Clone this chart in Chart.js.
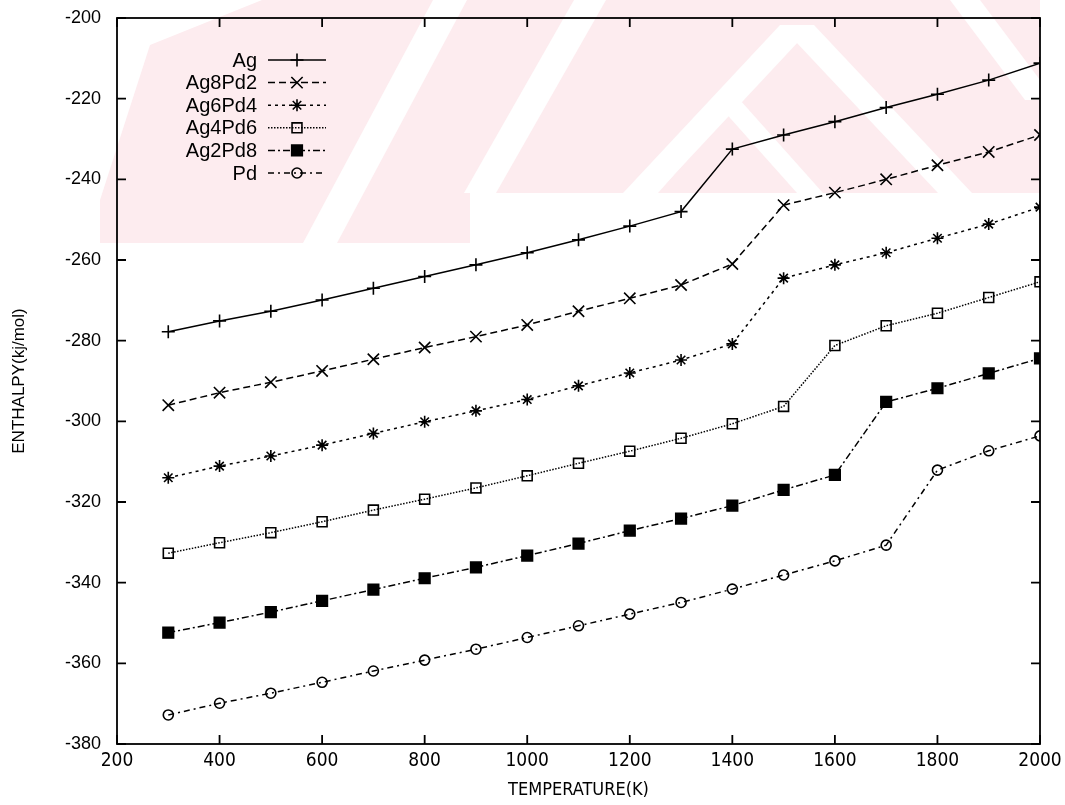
<!DOCTYPE html>
<html>
<head>
<meta charset="utf-8">
<title>Enthalpy of Ag-Pd clusters</title>
<script src="https://cdn.jsdelivr.net/npm/chart.js@4.4.1/dist/chart.umd.min.js"></script>
<style>
  html, body { margin: 0; padding: 0; background: #fff; }
  #wrap { width: 1065px; height: 805px; }
</style>
</head>
<body>
<div id="wrap"><canvas id="enthalpy" width="1065" height="805"></canvas></div>
<script>
// temperature grid (K)
const temperatures = [300, 400, 500, 600, 700, 800, 900, 1000, 1100, 1200, 1300, 1400, 1500, 1600, 1700, 1800, 1900, 2000];

// enthalpy per composition (kJ/mol)
const ag     = [-277.8, -275.1, -272.7, -269.9, -267.0, -264.1, -261.2, -258.2, -255.0, -251.6, -248.0, -232.5, -229.0, -225.7, -222.2, -218.9, -215.4, -211.2];
const ag8pd2 = [-296.0, -292.9, -290.3, -287.5, -284.6, -281.7, -279.0, -276.1, -272.7, -269.5, -266.2, -261.0, -246.4, -243.3, -240.0, -236.5, -233.2, -229.0];
const ag6pd4 = [-314.0, -311.1, -308.6, -305.9, -303.0, -300.1, -297.4, -294.6, -291.2, -288.0, -284.8, -280.8, -264.5, -261.2, -258.2, -254.6, -251.1, -246.9];
const ag4pd6 = [-332.7, -330.1, -327.6, -324.9, -322.0, -319.3, -316.5, -313.5, -310.4, -307.4, -304.2, -300.6, -296.3, -281.2, -276.3, -273.2, -269.3, -265.4];
const ag2pd8 = [-352.4, -349.9, -347.3, -344.5, -341.7, -338.9, -336.2, -333.3, -330.3, -327.1, -324.1, -320.9, -317.0, -313.3, -295.2, -291.8, -288.1, -284.4];
const pd     = [-372.8, -369.9, -367.4, -364.7, -361.9, -359.2, -356.5, -353.6, -350.7, -347.8, -344.9, -341.6, -338.1, -334.6, -330.7, -312.1, -307.3, -303.6];

const seriesNames = ['Ag', 'Ag8Pd2', 'Ag6Pd4', 'Ag4Pd6', 'Ag2Pd8', 'Pd'];

// axis ranges
const xMin = 200, xMax = 2000, xStep = 200;
const yMin = -380, yMax = -200, yStep = 20;

const FONT = '"Liberation Sans", Arial, Helvetica, sans-serif';
const NARROW = '"Liberation Sans Narrow", "DejaVu Sans Condensed", "Liberation Sans", sans-serif';

function toPoints(values) {
  return values.map((v, i) => ({ x: temperatures[i], y: v }));
}

function makeSeries(label, values, style) {
  return {
    label,
    data: toPoints(values),
    borderColor: '#000',
    borderWidth: 1.5,
    borderDash: style.dash,
    pointStyle: style.point,
    pointRadius: style.radius,
    pointBorderWidth: 1.6,
    pointBorderColor: '#000',
    pointBackgroundColor: style.fill,
    tension: 0,
    fill: false
  };
}

const datasets = [
  makeSeries(seriesNames[0], ag,     { dash: [],           point: 'cross',    radius: 6.5, fill: 'rgba(0,0,0,0)' }),
  makeSeries(seriesNames[1], ag8pd2, { dash: [7, 4],       point: 'crossRot', radius: 8,   fill: 'rgba(0,0,0,0)' }),
  makeSeries(seriesNames[2], ag6pd4, { dash: [3, 4],       point: 'star',     radius: 6,   fill: 'rgba(0,0,0,0)' }),
  makeSeries(seriesNames[3], ag4pd6, { dash: [1.5, 1.5],   point: 'rect',     radius: 7,   fill: 'rgba(0,0,0,0)' }),
  makeSeries(seriesNames[4], ag2pd8, { dash: [7, 3, 2, 3], point: 'rect',     radius: 7.5, fill: '#000' }),
  makeSeries(seriesNames[5], pd,     { dash: [6, 4, 2, 4], point: 'circle',   radius: 5,   fill: 'rgba(0,0,0,0)' })
];

// faint pink background stamp across the top of the page
const stampPlugin = {
  id: 'stamp',
  beforeDraw(chart) {
    const ctx = chart.ctx;
    const poly = (pts) => {
      ctx.beginPath();
      ctx.moveTo(pts[0][0], pts[0][1]);
      for (let i = 1; i < pts.length; i++) ctx.lineTo(pts[i][0], pts[i][1]);
      ctx.closePath();
      ctx.fill();
    };
    const band = (x0, y0, x1, y1, w) => {
      poly([[x0 - w / 2, y0], [x0 + w / 2, y0], [x1 + w / 2, y1], [x1 - w / 2, y1]]);
    };
    ctx.save();
    ctx.fillStyle = '#fdecef';
    poly([[100, 243], [470, 243], [470, 193], [1040, 193], [1040, 0], [262, 0], [150, 45], [100, 45]]);
    ctx.fillStyle = '#ffffff';
    poly([[100, 45], [150, 45], [100, 200]]);
    band(320, 243, 450, 0, 34);
    band(480, 193, 590, 0, 32);
    band(797, 25, 640, 193, 34);
    band(797, 25, 955, 193, 34);
    band(727, 100, 645, 193, 26);
    band(727, 100, 810, 193, 26);
    band(965, 0, 1040, 100, 30);
    ctx.restore();
  }
};

// frame, inward ticks and the key in the upper left
const framePlugin = {
  id: 'frame',
  afterDraw(chart) {
    const ctx = chart.ctx;
    const { left, right, top, bottom } = chart.chartArea;
    const xs = chart.scales.x, ys = chart.scales.y;
    const tick = 9;
    ctx.save();
    ctx.strokeStyle = '#000';
    ctx.lineWidth = 1.8;
    ctx.setLineDash([]);
    ctx.strokeRect(left, top, right - left, bottom - top);
    ctx.beginPath();
    xs.ticks.forEach(t => {
      const px = xs.getPixelForValue(t.value);
      ctx.moveTo(px, bottom); ctx.lineTo(px, bottom - tick);
      ctx.moveTo(px, top); ctx.lineTo(px, top + tick);
    });
    ys.ticks.forEach(t => {
      const py = ys.getPixelForValue(t.value);
      ctx.moveTo(left, py); ctx.lineTo(left + tick, py);
      ctx.moveTo(right, py); ctx.lineTo(right - tick, py);
    });
    ctx.stroke();

    // key: right-aligned names, sample line with marker to the right
    const textRight = 257, lineStart = 268, lineEnd = 326, markX = 297;
    ctx.font = '20px ' + FONT;
    ctx.textAlign = 'right';
    ctx.textBaseline = 'middle';
    chart.data.datasets.forEach((ds, i) => {
      const y = 60 + i * 22.6;
      ctx.fillStyle = '#000';
      ctx.fillText(ds.label, textRight, y + 1);
      ctx.strokeStyle = '#000';
      ctx.lineWidth = ds.borderWidth;
      ctx.setLineDash(ds.borderDash || []);
      ctx.beginPath();
      ctx.moveTo(lineStart, y);
      ctx.lineTo(lineEnd, y);
      ctx.stroke();
      ctx.setLineDash([]);
      ctx.lineWidth = ds.pointBorderWidth;
      ctx.fillStyle = ds.pointBackgroundColor;
      Chart.helpers.drawPoint(ctx, {
        pointStyle: ds.pointStyle,
        radius: ds.pointRadius,
        borderWidth: ds.pointBorderWidth,
        rotation: 0
      }, markX, y);
    });
    ctx.restore();
  }
};

// invisible tick marks keep the labels off the frame without adding
// to the scale's end padding
const hiddenTicks = (len) => ({
  display: true,
  drawOnChartArea: false,
  drawTicks: true,
  tickLength: len,
  tickColor: 'rgba(0,0,0,0)'
});

new Chart(document.getElementById('enthalpy'), {
  type: 'line',
  data: { datasets },
  options: {
    responsive: false,
    animation: false,
    layout: { padding: { top: 18, right: 25, bottom: 0, left: 0 } },
    plugins: {
      legend: { display: false },
      tooltip: { enabled: false }
    },
    scales: {
      x: {
        type: 'linear',
        min: xMin,
        max: xMax,
        grid: hiddenTicks(6),
        border: { display: false },
        ticks: {
          stepSize: xStep,
          padding: 0,
          color: '#000',
          font: { family: NARROW, size: 19 },
          callback: v => String(v)
        },
        title: {
          display: true,
          text: 'TEMPERATURE(K)',
          color: '#000',
          padding: { top: 0, bottom: 4 },
          font: { family: NARROW, size: 18 }
        },
        afterFit(scale) { scale.height = 61; }
      },
      y: {
        type: 'linear',
        min: yMin,
        max: yMax,
        grid: hiddenTicks(15),
        border: { display: false },
        ticks: {
          stepSize: yStep,
          padding: 1,
          color: '#000',
          font: { family: FONT, size: 18 },
          callback: v => String(v)
        },
        title: {
          display: true,
          text: 'ENTHALPY(kj/mol)',
          color: '#000',
          padding: { top: 9, bottom: 0 },
          font: { family: FONT, size: 17 }
        },
        afterFit(scale) { scale.width = 117; }
      }
    }
  },
  plugins: [stampPlugin, framePlugin]
});
</script>
</body>
</html>
